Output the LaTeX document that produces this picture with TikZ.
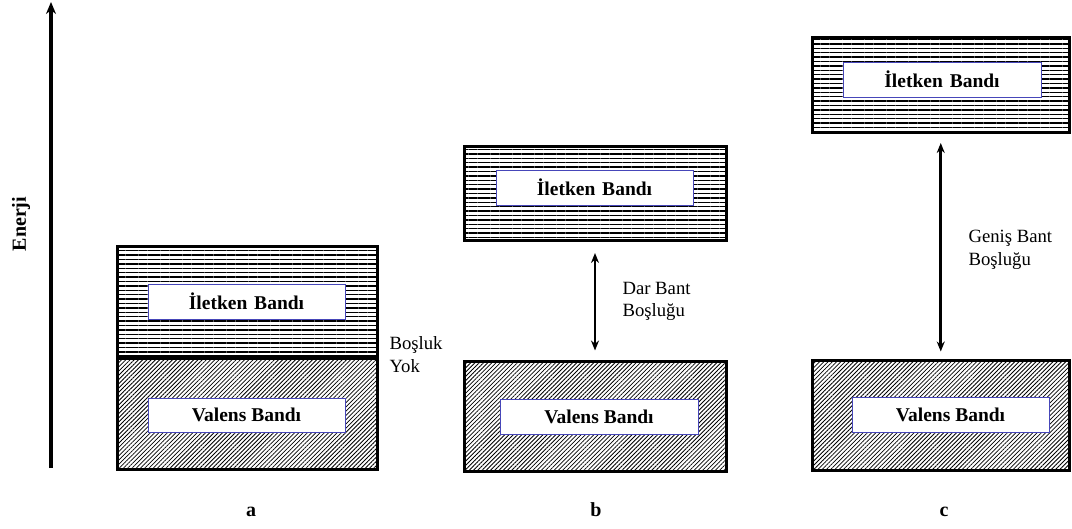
\documentclass[tikz,border=0pt]{standalone}
\usepackage{fontspec}
\setmainfont{Liberation Serif}
\usetikzlibrary{patterns.meta,arrows.meta}
\begin{document}
\begin{tikzpicture}[x=1pt,y=-1pt,
  cband/.style={draw=black,line width=3pt,inner sep=0pt,
    pattern={Lines[angle=0,distance=4.4pt,line width=1.4pt]}},
  vband/.style={draw=black,line width=3pt,inner sep=0pt,
    pattern={Lines[angle=45,distance=3pt,line width=0.8pt]}},
  lbox/.style={draw=blue!45!gray,line width=0.8pt,fill=white,inner sep=0pt,
    font=\fontsize{19.5}{22}\selectfont\bfseries},
  note/.style={anchor=base west,font=\fontsize{18.7}{23}\selectfont},
  gaparrow/.style={line width=2.6pt,{Stealth[length=10pt,width=8pt]}-{Stealth[length=10pt,width=8pt]}},
  axis/.style={line width=3.5pt,-{Stealth[length=12pt,width=10pt]}},
  panel/.style={anchor=base,font=\fontsize{20}{22}\selectfont\bfseries}]
\useasboundingbox (0,0) rectangle (1072,528);

% energy axis
\coordinate (e0) at (51,468);
\coordinate (e1) at (51,2);
\draw[axis] (e0) -- (e1);
\node[rotate=90,font=\fontsize{20}{22}\selectfont\bfseries] (en) at (21,224) {Enerji};

% (a) metal: bands overlap
\node[cband,minimum width=260pt,minimum height=112pt] (ac) at (247,302) {};
\node[vband,minimum width=260pt,minimum height=111pt] (av) at (247,413.5) {};
\draw[line width=4.5pt] (av.north west) -- (av.north east);
\node[lbox,minimum width=197pt,minimum height=35pt] (acl) at (246.5,301.5) {İletken\hspace{2pt} Bandı};
\node[lbox,minimum width=197pt,minimum height=34pt] (avl) at (246.5,415) {Valens Bandı};
\node[note] (ag1) at (386,349) {Boşluk};
\node[note] (ag2) at (386,372) {Yok};
\node[panel] (la) at (251,516) {a};

% (b) semiconductor: narrow gap
\node[cband,minimum width=262pt,minimum height=94pt] (bc) at (595,193) {};
\node[vband,minimum width=262pt,minimum height=110pt] (bv) at (595,416) {};
\node[lbox,minimum width=197pt,minimum height=35pt] (bcl) at (594.5,187.5) {İletken\hspace{2pt} Bandı};
\node[lbox,minimum width=198pt,minimum height=35pt] (bvl) at (599,416.5) {Valens Bandı};
\draw[gaparrow,shorten <=11.5pt,shorten >=9pt] (bc) -- (bv);
\node[note] (bg1) at (619,294) {Dar Bant};
\node[note] (bg2) at (619,316) {Boşluğu};
\node[panel] (lb) at (596,516) {b};

% (c) insulator: wide gap
\node[cband,minimum width=257.5pt,minimum height=95pt] (cc) at (940.75,84.5) {};
\node[vband,minimum width=257.5pt,minimum height=110pt] (cv) at (940.75,415) {};
\node[lbox,minimum width=198pt,minimum height=35pt] (ccl) at (942,79.5) {İletken\hspace{2pt} Bandı};
\node[lbox,minimum width=197pt,minimum height=35pt] (cvl) at (950.5,414.5) {Valens Bandı};
\draw[gaparrow,shorten <=9.5pt,shorten >=7pt] (cc) -- (cv);
\node[note] (cg1) at (965,242) {Geniş Bant};
\node[note] (cg2) at (965,265) {Boşluğu};
\node[panel] (lc) at (944,516) {c};
\end{tikzpicture}
\end{document}
